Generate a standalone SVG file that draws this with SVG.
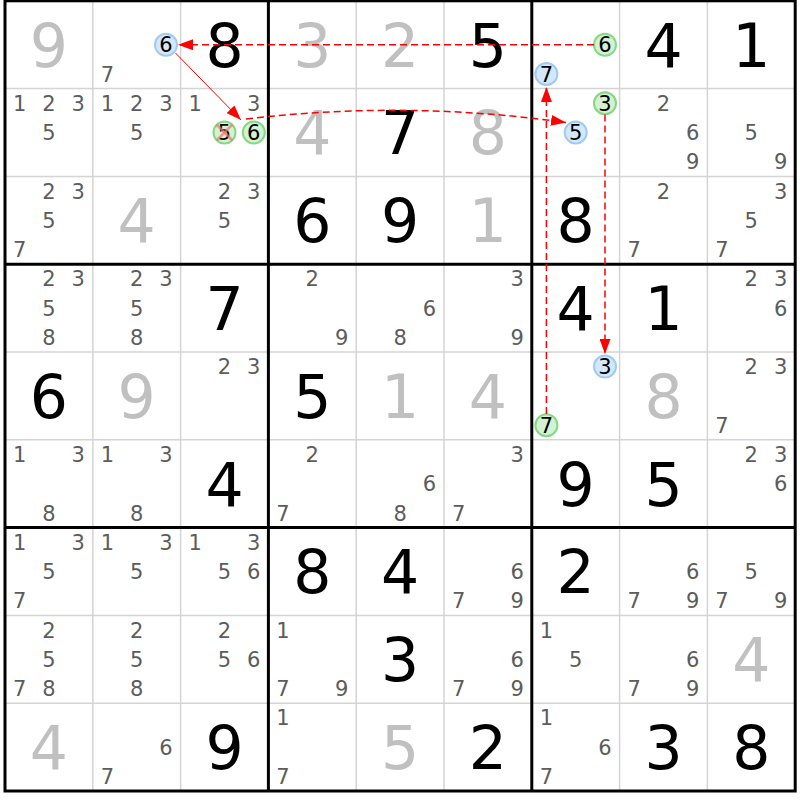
<svg xmlns="http://www.w3.org/2000/svg" width="800" height="800" viewBox="0 0 800 800">
<style>
.big{font-family:"DejaVu Sans",Verdana,sans-serif;font-size:60px;text-anchor:middle}
.g{fill:#c0c0c0}
.p{fill:#000}
.c{font-family:"DejaVu Sans",Verdana,sans-serif;font-size:21px;text-anchor:middle;fill:#5c5c5c}
.h{fill:#000}
.cb{fill:#d5e8fb;stroke:#9ecbf5;stroke-width:2}
.cg{fill:#d2f2d2;stroke:#86d886;stroke-width:2}
.thin{stroke:#d4d4d4;stroke-width:1.5}
.thick{stroke:#000;stroke-width:3;fill:none}
.dash{stroke:#f00;stroke-width:1.5;stroke-dasharray:7 4;fill:none}
.solid{stroke:#f00;stroke-width:1;fill:none}
.x{stroke:#ff7070;stroke-width:2.5;opacity:0.7}
</style>
<defs>
<marker id="ah" markerUnits="userSpaceOnUse" markerWidth="15" markerHeight="11" refX="15" refY="5.5" orient="auto"><path d="M0,0 L15,5.5 L0,11 z" fill="#f00"/></marker>
</defs>
<rect width="800" height="800" fill="#fff"/>
<g id="grid">
<g class="thin">
<line x1="92.8" y1="0.8" x2="92.8" y2="791"/><line x1="180.6" y1="0.8" x2="180.6" y2="791"/>
<line x1="356.2" y1="0.8" x2="356.2" y2="791"/><line x1="444" y1="0.8" x2="444" y2="791"/>
<line x1="619.6" y1="0.8" x2="619.6" y2="791"/><line x1="707.4" y1="0.8" x2="707.4" y2="791"/>
<line x1="5" y1="88.6" x2="795.2" y2="88.6"/><line x1="5" y1="176.4" x2="795.2" y2="176.4"/>
<line x1="5" y1="352" x2="795.2" y2="352"/><line x1="5" y1="439.8" x2="795.2" y2="439.8"/>
<line x1="5" y1="615.4" x2="795.2" y2="615.4"/><line x1="5" y1="703.2" x2="795.2" y2="703.2"/>
</g>
<g class="thick">
<line x1="268.4" y1="0.8" x2="268.4" y2="791"/><line x1="531.8" y1="0.8" x2="531.8" y2="791"/>
<line x1="5" y1="264.2" x2="795.2" y2="264.2"/><line x1="5" y1="527.6" x2="795.2" y2="527.6"/>
<rect x="5" y="0.8" width="790.2" height="790.2"/>
</g>
</g>
<!-- Row 0 -->
<g id="r0c0" transform="translate(5,0.8)"><text class="big g" x="43.9" y="65.9">9</text></g>
<g id="r0c1" transform="translate(92.8,0.8)"><circle class="cb" cx="73.2" cy="43.9" r="11"/><text class="c h" x="73.2" y="51.5">6</text><text class="c" x="14.6" y="80.8">7</text></g>
<g id="r0c2" transform="translate(180.6,0.8)"><text class="big p" x="43.9" y="65.9">8</text></g>
<g id="r0c3" transform="translate(268.4,0.8)"><text class="big g" x="43.9" y="65.9">3</text></g>
<g id="r0c4" transform="translate(356.2,0.8)"><text class="big g" x="43.9" y="65.9">2</text></g>
<g id="r0c5" transform="translate(444,0.8)"><text class="big p" x="43.9" y="65.9">5</text></g>
<g id="r0c6" transform="translate(531.8,0.8)"><circle class="cg" cx="73.2" cy="43.9" r="11"/><text class="c h" x="73.2" y="51.5">6</text><circle class="cb" cx="14.6" cy="73.2" r="11"/><text class="c h" x="14.6" y="80.8">7</text></g>
<g id="r0c7" transform="translate(619.6,0.8)"><text class="big p" x="43.9" y="65.9">4</text></g>
<g id="r0c8" transform="translate(707.4,0.8)"><text class="big p" x="43.9" y="65.9">1</text></g>
<!-- Row 1 -->
<g id="r1c0" transform="translate(5,88.6)"><text class="c" x="14.6" y="22.2">1</text><text class="c" x="43.9" y="22.2">2</text><text class="c" x="73.2" y="22.2">3</text><text class="c" x="43.9" y="51.5">5</text></g>
<g id="r1c1" transform="translate(92.8,88.6)"><text class="c" x="14.6" y="22.2">1</text><text class="c" x="43.9" y="22.2">2</text><text class="c" x="73.2" y="22.2">3</text><text class="c" x="43.9" y="51.5">5</text></g>
<g id="r1c2" transform="translate(180.6,88.6)"><text class="c" x="14.6" y="22.2">1</text><text class="c" x="73.2" y="22.2">3</text><circle class="cg" cx="43.9" cy="43.9" r="11"/><text class="c h" x="43.9" y="51.5">5</text><line class="x" x1="35.9" y1="35.9" x2="51.9" y2="51.9"/><line class="x" x1="51.9" y1="35.9" x2="35.9" y2="51.9"/><circle class="cg" cx="73.2" cy="43.9" r="11"/><text class="c h" x="73.2" y="51.5">6</text></g>
<g id="r1c3" transform="translate(268.4,88.6)"><text class="big g" x="43.9" y="65.9">4</text></g>
<g id="r1c4" transform="translate(356.2,88.6)"><text class="big p" x="43.9" y="65.9">7</text></g>
<g id="r1c5" transform="translate(444,88.6)"><text class="big g" x="43.9" y="65.9">8</text></g>
<g id="r1c6" transform="translate(531.8,88.6)"><circle class="cg" cx="73.2" cy="14.6" r="11"/><text class="c h" x="73.2" y="22.2">3</text><circle class="cb" cx="43.9" cy="43.9" r="11"/><text class="c h" x="43.9" y="51.5">5</text></g>
<g id="r1c7" transform="translate(619.6,88.6)"><text class="c" x="43.9" y="22.2">2</text><text class="c" x="73.2" y="51.5">6</text><text class="c" x="73.2" y="80.8">9</text></g>
<g id="r1c8" transform="translate(707.4,88.6)"><text class="c" x="43.9" y="51.5">5</text><text class="c" x="73.2" y="80.8">9</text></g>
<!-- Row 2 -->
<g id="r2c0" transform="translate(5,176.4)"><text class="c" x="43.9" y="22.2">2</text><text class="c" x="73.2" y="22.2">3</text><text class="c" x="43.9" y="51.5">5</text><text class="c" x="14.6" y="80.8">7</text></g>
<g id="r2c1" transform="translate(92.8,176.4)"><text class="big g" x="43.9" y="65.9">4</text></g>
<g id="r2c2" transform="translate(180.6,176.4)"><text class="c" x="43.9" y="22.2">2</text><text class="c" x="73.2" y="22.2">3</text><text class="c" x="43.9" y="51.5">5</text></g>
<g id="r2c3" transform="translate(268.4,176.4)"><text class="big p" x="43.9" y="65.9">6</text></g>
<g id="r2c4" transform="translate(356.2,176.4)"><text class="big p" x="43.9" y="65.9">9</text></g>
<g id="r2c5" transform="translate(444,176.4)"><text class="big g" x="43.9" y="65.9">1</text></g>
<g id="r2c6" transform="translate(531.8,176.4)"><text class="big p" x="43.9" y="65.9">8</text></g>
<g id="r2c7" transform="translate(619.6,176.4)"><text class="c" x="43.9" y="22.2">2</text><text class="c" x="14.6" y="80.8">7</text></g>
<g id="r2c8" transform="translate(707.4,176.4)"><text class="c" x="73.2" y="22.2">3</text><text class="c" x="43.9" y="51.5">5</text><text class="c" x="14.6" y="80.8">7</text></g>
<!-- Row 3 -->
<g id="r3c0" transform="translate(5,264.2)"><text class="c" x="43.9" y="22.2">2</text><text class="c" x="73.2" y="22.2">3</text><text class="c" x="43.9" y="51.5">5</text><text class="c" x="43.9" y="80.8">8</text></g>
<g id="r3c1" transform="translate(92.8,264.2)"><text class="c" x="43.9" y="22.2">2</text><text class="c" x="73.2" y="22.2">3</text><text class="c" x="43.9" y="51.5">5</text><text class="c" x="43.9" y="80.8">8</text></g>
<g id="r3c2" transform="translate(180.6,264.2)"><text class="big p" x="43.9" y="65.9">7</text></g>
<g id="r3c3" transform="translate(268.4,264.2)"><text class="c" x="43.9" y="22.2">2</text><text class="c" x="73.2" y="80.8">9</text></g>
<g id="r3c4" transform="translate(356.2,264.2)"><text class="c" x="73.2" y="51.5">6</text><text class="c" x="43.9" y="80.8">8</text></g>
<g id="r3c5" transform="translate(444,264.2)"><text class="c" x="73.2" y="22.2">3</text><text class="c" x="73.2" y="80.8">9</text></g>
<g id="r3c6" transform="translate(531.8,264.2)"><text class="big p" x="43.9" y="65.9">4</text></g>
<g id="r3c7" transform="translate(619.6,264.2)"><text class="big p" x="43.9" y="65.9">1</text></g>
<g id="r3c8" transform="translate(707.4,264.2)"><text class="c" x="43.9" y="22.2">2</text><text class="c" x="73.2" y="22.2">3</text><text class="c" x="73.2" y="51.5">6</text></g>
<!-- Row 4 -->
<g id="r4c0" transform="translate(5,352)"><text class="big p" x="43.9" y="65.9">6</text></g>
<g id="r4c1" transform="translate(92.8,352)"><text class="big g" x="43.9" y="65.9">9</text></g>
<g id="r4c2" transform="translate(180.6,352)"><text class="c" x="43.9" y="22.2">2</text><text class="c" x="73.2" y="22.2">3</text></g>
<g id="r4c3" transform="translate(268.4,352)"><text class="big p" x="43.9" y="65.9">5</text></g>
<g id="r4c4" transform="translate(356.2,352)"><text class="big g" x="43.9" y="65.9">1</text></g>
<g id="r4c5" transform="translate(444,352)"><text class="big g" x="43.9" y="65.9">4</text></g>
<g id="r4c6" transform="translate(531.8,352)"><circle class="cb" cx="73.2" cy="14.6" r="11"/><text class="c h" x="73.2" y="22.2">3</text><circle class="cg" cx="14.6" cy="73.2" r="11"/><text class="c h" x="14.6" y="80.8">7</text></g>
<g id="r4c7" transform="translate(619.6,352)"><text class="big g" x="43.9" y="65.9">8</text></g>
<g id="r4c8" transform="translate(707.4,352)"><text class="c" x="43.9" y="22.2">2</text><text class="c" x="73.2" y="22.2">3</text><text class="c" x="14.6" y="80.8">7</text></g>
<!-- Row 5 -->
<g id="r5c0" transform="translate(5,439.8)"><text class="c" x="14.6" y="22.2">1</text><text class="c" x="73.2" y="22.2">3</text><text class="c" x="43.9" y="80.8">8</text></g>
<g id="r5c1" transform="translate(92.8,439.8)"><text class="c" x="14.6" y="22.2">1</text><text class="c" x="73.2" y="22.2">3</text><text class="c" x="43.9" y="80.8">8</text></g>
<g id="r5c2" transform="translate(180.6,439.8)"><text class="big p" x="43.9" y="65.9">4</text></g>
<g id="r5c3" transform="translate(268.4,439.8)"><text class="c" x="43.9" y="22.2">2</text><text class="c" x="14.6" y="80.8">7</text></g>
<g id="r5c4" transform="translate(356.2,439.8)"><text class="c" x="73.2" y="51.5">6</text><text class="c" x="43.9" y="80.8">8</text></g>
<g id="r5c5" transform="translate(444,439.8)"><text class="c" x="73.2" y="22.2">3</text><text class="c" x="14.6" y="80.8">7</text></g>
<g id="r5c6" transform="translate(531.8,439.8)"><text class="big p" x="43.9" y="65.9">9</text></g>
<g id="r5c7" transform="translate(619.6,439.8)"><text class="big p" x="43.9" y="65.9">5</text></g>
<g id="r5c8" transform="translate(707.4,439.8)"><text class="c" x="43.9" y="22.2">2</text><text class="c" x="73.2" y="22.2">3</text><text class="c" x="73.2" y="51.5">6</text></g>
<!-- Row 6 -->
<g id="r6c0" transform="translate(5,527.6)"><text class="c" x="14.6" y="22.2">1</text><text class="c" x="73.2" y="22.2">3</text><text class="c" x="43.9" y="51.5">5</text><text class="c" x="14.6" y="80.8">7</text></g>
<g id="r6c1" transform="translate(92.8,527.6)"><text class="c" x="14.6" y="22.2">1</text><text class="c" x="73.2" y="22.2">3</text><text class="c" x="43.9" y="51.5">5</text></g>
<g id="r6c2" transform="translate(180.6,527.6)"><text class="c" x="14.6" y="22.2">1</text><text class="c" x="73.2" y="22.2">3</text><text class="c" x="43.9" y="51.5">5</text><text class="c" x="73.2" y="51.5">6</text></g>
<g id="r6c3" transform="translate(268.4,527.6)"><text class="big p" x="43.9" y="65.9">8</text></g>
<g id="r6c4" transform="translate(356.2,527.6)"><text class="big p" x="43.9" y="65.9">4</text></g>
<g id="r6c5" transform="translate(444,527.6)"><text class="c" x="73.2" y="51.5">6</text><text class="c" x="14.6" y="80.8">7</text><text class="c" x="73.2" y="80.8">9</text></g>
<g id="r6c6" transform="translate(531.8,527.6)"><text class="big p" x="43.9" y="65.9">2</text></g>
<g id="r6c7" transform="translate(619.6,527.6)"><text class="c" x="73.2" y="51.5">6</text><text class="c" x="14.6" y="80.8">7</text><text class="c" x="73.2" y="80.8">9</text></g>
<g id="r6c8" transform="translate(707.4,527.6)"><text class="c" x="43.9" y="51.5">5</text><text class="c" x="14.6" y="80.8">7</text><text class="c" x="73.2" y="80.8">9</text></g>
<!-- Row 7 -->
<g id="r7c0" transform="translate(5,615.4)"><text class="c" x="43.9" y="22.2">2</text><text class="c" x="43.9" y="51.5">5</text><text class="c" x="14.6" y="80.8">7</text><text class="c" x="43.9" y="80.8">8</text></g>
<g id="r7c1" transform="translate(92.8,615.4)"><text class="c" x="43.9" y="22.2">2</text><text class="c" x="43.9" y="51.5">5</text><text class="c" x="43.9" y="80.8">8</text></g>
<g id="r7c2" transform="translate(180.6,615.4)"><text class="c" x="43.9" y="22.2">2</text><text class="c" x="43.9" y="51.5">5</text><text class="c" x="73.2" y="51.5">6</text></g>
<g id="r7c3" transform="translate(268.4,615.4)"><text class="c" x="14.6" y="22.2">1</text><text class="c" x="14.6" y="80.8">7</text><text class="c" x="73.2" y="80.8">9</text></g>
<g id="r7c4" transform="translate(356.2,615.4)"><text class="big p" x="43.9" y="65.9">3</text></g>
<g id="r7c5" transform="translate(444,615.4)"><text class="c" x="73.2" y="51.5">6</text><text class="c" x="14.6" y="80.8">7</text><text class="c" x="73.2" y="80.8">9</text></g>
<g id="r7c6" transform="translate(531.8,615.4)"><text class="c" x="14.6" y="22.2">1</text><text class="c" x="43.9" y="51.5">5</text></g>
<g id="r7c7" transform="translate(619.6,615.4)"><text class="c" x="73.2" y="51.5">6</text><text class="c" x="14.6" y="80.8">7</text><text class="c" x="73.2" y="80.8">9</text></g>
<g id="r7c8" transform="translate(707.4,615.4)"><text class="big g" x="43.9" y="65.9">4</text></g>
<!-- Row 8 -->
<g id="r8c0" transform="translate(5,703.2)"><text class="big g" x="43.9" y="65.9">4</text></g>
<g id="r8c1" transform="translate(92.8,703.2)"><text class="c" x="73.2" y="51.5">6</text><text class="c" x="14.6" y="80.8">7</text></g>
<g id="r8c2" transform="translate(180.6,703.2)"><text class="big p" x="43.9" y="65.9">9</text></g>
<g id="r8c3" transform="translate(268.4,703.2)"><text class="c" x="14.6" y="22.2">1</text><text class="c" x="14.6" y="80.8">7</text></g>
<g id="r8c4" transform="translate(356.2,703.2)"><text class="big g" x="43.9" y="65.9">5</text></g>
<g id="r8c5" transform="translate(444,703.2)"><text class="big p" x="43.9" y="65.9">2</text></g>
<g id="r8c6" transform="translate(531.8,703.2)"><text class="c" x="14.6" y="22.2">1</text><text class="c" x="73.2" y="51.5">6</text><text class="c" x="14.6" y="80.8">7</text></g>
<g id="r8c7" transform="translate(619.6,703.2)"><text class="big p" x="43.9" y="65.9">3</text></g>
<g id="r8c8" transform="translate(707.4,703.2)"><text class="big p" x="43.9" y="65.9">8</text></g>
<g id="connectors">
<line class="dash" x1="594" y1="44.7" x2="178" y2="44.7" marker-end="url(#ah)"/>
<line class="solid" x1="175.5" y1="53" x2="241" y2="120" marker-end="url(#ah)"/>
<path class="dash" d="M246,119 Q406,100 566,122.5" marker-end="url(#ah)"/>
<line class="dash" x1="546.4" y1="414" x2="546.4" y2="87" marker-end="url(#ah)"/>
<line class="dash" x1="605" y1="114.5" x2="605" y2="354" marker-end="url(#ah)"/>
</g>
</svg>
